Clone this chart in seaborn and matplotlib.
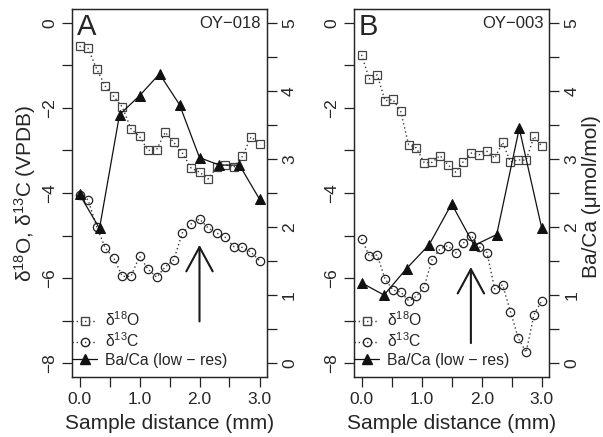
import numpy as np
import pandas as pd
import matplotlib
matplotlib.use("Agg")
import matplotlib.pyplot as plt
import seaborn as sns
from matplotlib.lines import Line2D

# ---------------- data ----------------
# Panel A (OY-018)
a_o18_x = np.linspace(0, 3, 22)
a_o18 = [-0.55, -0.60, -1.08, -1.49, -1.73, -1.98, -2.49, -2.67, -3.00, -2.98, -2.57,
         -2.81, -3.06, -3.41, -3.51, -3.67, -3.40, -3.33, -3.40, -3.14, -2.68, -2.84]
a_c13_x = np.linspace(0, 3, 22)
a_c13 = [-4.04, -4.16, -4.79, -5.29, -5.53, -5.96, -5.96, -5.49, -5.79, -5.98, -5.74,
         -5.57, -4.94, -4.73, -4.61, -4.82, -4.94, -5.04, -5.26, -5.28, -5.39, -5.59]
a_ba_x = np.linspace(0, 3, 10)
a_ba = [2.48, 1.98, 3.65, 3.93, 4.25, 3.80, 3.02, 2.91, 2.91, 2.41]
a_arrow_x = 2.0
a_arrow_y = (-7.02, -5.22)

# Panel B (OY-003)
b_o18_x = np.linspace(0, 3, 24)
b_o18 = [-0.75, -1.32, -1.22, -1.83, -1.80, -2.08, -2.86, -2.94, -3.29, -3.28, -3.12, -3.33,
         -3.51, -3.26, -3.06, -3.10, -3.02, -3.18, -2.81, -3.27, -3.22, -3.23, -2.67, -2.90]
b_c13_x = np.linspace(0, 3, 24)
b_c13 = [-5.08, -5.48, -5.46, -6.02, -6.28, -6.33, -6.53, -6.43, -6.20, -5.57, -5.32, -5.24,
         -5.41, -5.18, -5.00, -5.26, -5.40, -6.26, -6.16, -6.79, -7.41, -7.75, -6.86, -6.53]
b_ba_x = np.linspace(0, 3, 9)
b_ba = [1.18, 1.00, 1.39, 1.74, 2.34, 1.73, 1.89, 3.45, 1.98]
b_arrow_x = 1.82
b_arrow_y = (-7.53, -5.74)

panel_letters = ["A", "B"]
sample_ids = ["OY\u2212018", "OY\u2212003"]
legend_labels = ["\u03b4$^{18}$O", "\u03b4$^{13}$C", "Ba/Ca (low \u2212 res)"]
x_label = "Sample distance (mm)"
y_left_label = "\u03b4$^{18}$O, \u03b4$^{13}$C (VPDB)"
y_right_label = "Ba/Ca (\u03bcmol/mol)"
x_ticks = [0, 0.5, 1, 1.5, 2, 2.5, 3]
x_ticklabels = ["0.0", "", "1.0", "", "2.0", "", "3.0"]
yl_ticks = [-8, -7, -6, -5, -4, -3, -2, -1, 0]
yl_ticklabels = ["\u22128", "", "\u22126", "", "\u22124", "", "\u22122", "", "0"]
yr_ticks = [0, 0.5, 1, 1.5, 2, 2.5, 3, 3.5, 4, 4.5, 5]
yr_ticklabels = ["0", "", "1", "", "2", "", "3", "", "4", "", "5"]

# ---------------- style ----------------
sns.set_style("ticks")
plt.rcParams["font.family"] = ["Liberation Sans", "DejaVu Sans"]
plt.rcParams["mathtext.fontset"] = "custom"
plt.rcParams["mathtext.rm"] = "Liberation Sans"
plt.rcParams["mathtext.it"] = "Liberation Sans:italic"
plt.rcParams["mathtext.bf"] = "Liberation Sans:bold"
plt.rcParams["axes.linewidth"] = 0.9
plt.rcParams["xtick.major.width"] = 0.9
plt.rcParams["ytick.major.width"] = 0.9

TICK_FS = 12.5
LAB_FS = 15
LEG_FS = 11.3

fig = plt.figure(figsize=(6.03, 4.37), dpi=100)
W, H = 603, 437
def add_axes(x0, x1, y0, y1):
    return fig.add_axes([x0 / W, 1 - y1 / H, (x1 - x0) / W, (y1 - y0) / H])

axA = add_axes(72.3, 266.7, 9.3, 376.7)
axB = add_axes(354.3, 549.0, 9.3, 376.7)

dot_col = "#3a3a3a"
SQ_MS, CI_MS, TR_MS = 5.6, 6.0, 7.6
panels = [
    (axA, a_o18_x, a_o18, a_c13_x, a_c13, a_ba_x, a_ba, a_arrow_x, a_arrow_y),
    (axB, b_o18_x, b_o18, b_c13_x, b_c13, b_ba_x, b_ba, b_arrow_x, b_arrow_y),
]

for i, (ax, ox, oy, cx, cy, bx, by, arx, ary) in enumerate(panels):
    df_o = pd.DataFrame({"x": ox, "y": oy})
    df_c = pd.DataFrame({"x": cx, "y": cy})
    df_b = pd.DataFrame({"x": bx, "y": by})
    sns.lineplot(data=df_o, x="x", y="y", ax=ax, sort=False, color=dot_col, lw=1.0,
                 linestyle=(0, (1, 2)), marker="s", markersize=SQ_MS, markerfacecolor="none",
                 markeredgecolor="#444444", markeredgewidth=0.9)
    sns.lineplot(data=df_c, x="x", y="y", ax=ax, sort=False, color=dot_col, lw=1.0,
                 linestyle=(0, (1, 2)), marker="o", markersize=CI_MS, markerfacecolor="none",
                 markeredgecolor="#222222", markeredgewidth=0.9)
    ax.annotate("", xy=(arx, ary[1]), xytext=(arx, ary[0]),
                arrowprops=dict(arrowstyle="->,head_length=1.75,head_width=0.95",
                                lw=1.5, color="#1a1a1a", shrinkA=0, shrinkB=0,
                                mutation_scale=10))
    ax.set_xlim(-0.12, 3.12)
    ax.set_ylim(-8.32, 0.32)
    ax.set_xticks(x_ticks)
    ax.set_xticklabels(x_ticklabels, fontsize=TICK_FS)
    ax.set_yticks(yl_ticks)
    ax.set_yticklabels(yl_ticklabels, fontsize=TICK_FS, rotation=90, va="center")
    ax.tick_params(length=7, pad=4, direction="out", color="#222222")
    ax.set_xlabel(x_label, fontsize=LAB_FS, labelpad=5)
    ax.set_ylabel("")
    ax.text(0.023, 0.930, panel_letters[i], transform=ax.transAxes, fontsize=21,
            ha="left", va="baseline")
    ax.text(0.971, 0.948, sample_ids[i], transform=ax.transAxes, fontsize=12,
            ha="right", va="baseline")

    ax2 = ax.twinx()
    sns.lineplot(data=df_b, x="x", y="y", ax=ax2, sort=False, color="#111111", lw=0.9,
                 marker="^", markersize=TR_MS, markerfacecolor="#111111",
                 markeredgecolor="#111111")
    ax2.set_ylim(-0.2, 5.2)
    ax2.set_yticks(yr_ticks)
    ax2.set_yticklabels(yr_ticklabels, fontsize=TICK_FS, rotation=90, va="center")
    ax2.tick_params(length=7, pad=4, direction="out", color="#222222")
    ax2.set_ylabel("")
    ax2.set_xlim(-0.12, 3.12)

    handles = [
        Line2D([], [], color=dot_col, lw=1.0, linestyle=(0, (1, 2)), marker="s",
               markersize=SQ_MS, markerfacecolor="none", markeredgecolor="#444444"),
        Line2D([], [], color=dot_col, lw=1.0, linestyle=(0, (1, 2)), marker="o",
               markersize=CI_MS, markerfacecolor="none", markeredgecolor="#222222"),
        Line2D([], [], color="#111111", lw=0.9, marker="^", markersize=TR_MS,
               markerfacecolor="#111111", markeredgecolor="#111111"),
    ]
    ax2.legend(handles, legend_labels, loc="lower left", bbox_to_anchor=(0.0, 0.025),
               frameon=False, fontsize=LEG_FS, borderaxespad=0, borderpad=0,
               handlelength=1.6, handletextpad=0.5, labelspacing=0.15)
    if i == 0:
        ax.set_ylabel(y_left_label, fontsize=LAB_FS)
        ax.yaxis.set_label_coords(-0.175, 0.5)
    else:
        ax2.set_ylabel(y_right_label, fontsize=LAB_FS)
        ax2.yaxis.set_label_coords(1.172, 0.49)

fig.savefig("out.png", dpi=100)
